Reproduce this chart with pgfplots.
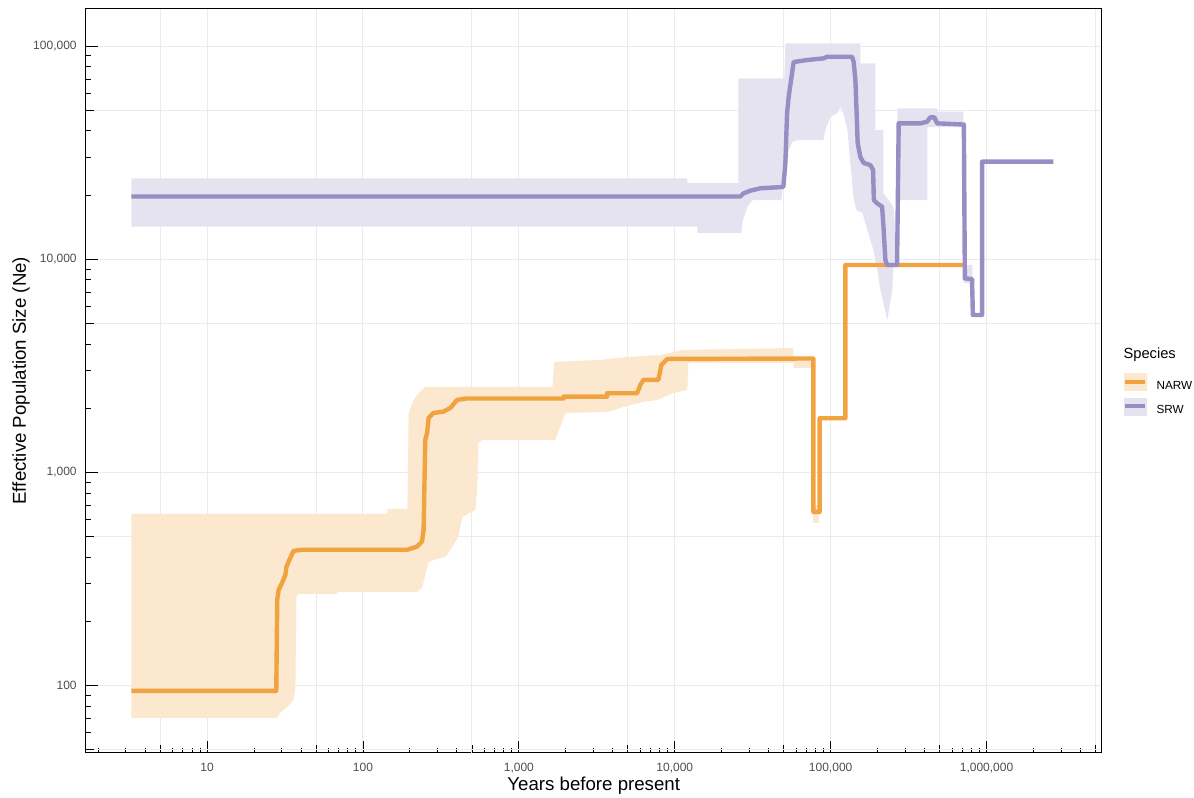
\documentclass[border=0pt]{standalone}
\usepackage{pgfplots}
\pgfplotsset{compat=1.18}
\usepackage{fontspec}
\setmainfont{Liberation Sans}
\definecolor{narw}{HTML}{F1A340}
\definecolor{srw}{HTML}{998EC3}
\colorlet{narwband}{narw!25!white}
\colorlet{srwband}{srw!25!white}
\definecolor{gridc}{RGB}{235,235,235}
\definecolor{ticklab}{RGB}{77,77,77}
\begin{document}
\begin{tikzpicture}
\path[use as bounding box] (-64.3pt,-33.75pt) rectangle (831.2pt,564.75pt);
\begin{axis}[
  at={(0pt,0pt)}, anchor=south west,
  scale only axis, width=762pt, height=558.5pt,
  xmode=log, ymode=log,
  xmin=1.667, xmax=5.48e6, ymin=48.2, ymax=150300,
  axis x line*=bottom, axis y line*=left,
  xtick={10,100,1000,10000,100000,1000000},
  xticklabels={10,100,{1,000},{10,000},{100,000},{1,000,000}},
  ytick={100,1000,10000,100000},
  yticklabels={100,{1,000},{10,000},{100,000}},
  minor xtick={2,3,4,6,7,8,9,20,30,40,60,70,80,90,200,300,400,600,700,800,900,2000,3000,4000,6000,7000,8000,9000,20000,30000,40000,60000,70000,80000,90000,200000,300000,400000,600000,700000,800000,900000,2000000,3000000,4000000},
  minor ytick={60,70,80,90,200,300,400,600,700,800,900,2000,3000,4000,6000,7000,8000,9000,20000,30000,40000,60000,70000,80000,90000},
  extra x ticks={5,50,500,5000,50000,500000,5000000},
  extra x tick labels={},
  extra y ticks={50,500,5000,50000},
  extra y tick labels={},
  extra tick style={grid=major, major tick length=6pt},
  grid=major,
  major grid style={gridc, line width=0.75pt},
  tick align=inside,
  major tick length=9pt, minor tick length=3.75pt,
  tick style={black, line width=0.6pt},
  axis line style={black, line width=0.75pt},
  ticklabel style={font=\fontsize{9}{10}\selectfont, text=ticklab},
  xticklabel style={yshift=-4.1pt},
  yticklabel style={xshift=-3.3pt},
  xlabel={Years before present},
  ylabel={Effective Population Size (Ne)},
  xlabel style={at={(axis description cs:0.5,-0.0497)}, anchor=base, font=\fontsize{14}{16}\selectfont},
  ylabel style={at={(axis description cs:-0.0637,0.5)}, anchor=center, font=\fontsize{14}{16}\selectfont},
  legend style={at={(axis description cs:1.0213,0.510)}, anchor=north west, draw=none, fill=none,
    inner sep=0pt, outer sep=0pt, row sep=4.75pt, column sep=7pt,
    nodes={inner sep=0pt, font=\fontsize{8.8}{10}\selectfont}},
  legend cell align=left,
  after end axis/.code={\draw[black, line width=0.75pt] (rel axis cs:0,1) -- (rel axis cs:1,1) -- (rel axis cs:1,0);},
]
% NARW band
\addplot[fill=narwband, draw=none, forget plot] coordinates {
(3.27,638) (143.4,638) (143.4,673) (192.7,673) (196.5,1899) (211.4,2186) (227.7,2357) (251.3,2515)
(1640,2515) (1689,3294) (3333,3367) (4966,3478) (8082,3554) (11360,3751) (57650,3833) (57650,3478) (75200,3478)
(75200,3088) (57650,3088) (57650,3259) (12220,3259) (12040,2435) (9795,2357) (7734,2186) (6290,2139)
(5190,2071) (3697,1920) (1988,1899) (1714,1419) (583.3,1419) (549.8,1374) (541.8,854) (526,666)
(434.1,618) (409.3,498) (363.6,432.5) (337.8,401) (282.9,388) (262.7,376) (240.4,290) (223.4,275)
(68.5,275) (68.5,269) (38.5,269) (37.4,260) (36.9,98.5) (35.8,85.6) (32.7,79.4) (29.5,74.4) (28.2,70.5) (3.27,70.5)
};
\addplot[fill=narwband, draw=none, forget plot] coordinates {
(77000,703) (84100,703) (84100,579) (77000,579)
};
% SRW band
\addplot[fill=srwband, draw=none, forget plot] coordinates {
(3.27,23960) (12040,23960) (12040,22770) (25590,22770) (25590,70560) (50470,70560) (51230,102960)
(155100,102960) (155100,82950) (193500,82950) (193500,40360) (217800,40360) (217800,20440)
(252500,17570) (267800,11050) (267800,51040) (483500,51040) (483500,49180) (709900,49180)
(709900,9393) (810600,9393)
(810600,7733) (709900,7733) (709900,41700) (417200,41700) (417200,18950) (271800,18950) (267800,10240)
(252500,9193) (248800,7170) (231000,5186) (208400,7170) (199300,8897) (187900,11050) (159700,16470)
(146200,17010) (139900,19570) (128000,40360) (120600,48500) (115400,51750) (110400,48500) (99560,46450)
(92480,40360) (89790,36230) (61150,36230) (56810,35450) (50470,29200) (48290,18750) (47580,18950)
(31470,18950) (29230,17570) (27140,14940) (26750,13270) (13960,13270) (13960,14210) (3.27,14210)
};
% NARW line
\addplot[narw, line width=3.3pt, line join=round, forget plot] coordinates {
(3.27,94.3) (27.8,94.3) (28.2,252) (28.8,281) (30.3,303) (31.8,330) (32.3,360) (34.2,397) (35.9,428)
(40.7,433) (192,433) (222,448) (239,473) (245,537) (251,1419) (258,1530) (264,1800) (283,1899)
(328,1926) (364,2005) (401,2186) (465,2221) (1938,2221) (1938,2265) (3680,2265) (3680,2350)
(5730,2350) (6016,2570) (6290,2713) (7850,2713) (8204,3190) (8966,3403) (77450,3420) (77450,652)
(85000,652) (85000,1794) (124300,1794) (124300,9393) (713000,9393)
};
% SRW line
\addplot[srw, line width=3.3pt, line join=round, forget plot] coordinates {
(3.27,19680) (26350,19680) (27540,20330) (30530,20960) (35400,21510) (49730,21820) (51230,28270)
(52530,48500) (53770,57670) (56540,74700) (57890,84140) (70590,85980) (90200,87580) (94830,89100)
(137200,89100) (140500,84140) (144100,69250) (147300,44970) (149000,35080) (155100,30160)
(162800,28270) (179700,27660) (187100,26200) (189300,18950) (198400,18290) (213700,17630)
(218800,13710) (224400,9913) (230100,9393) (266700,9393) (273100,43390) (376200,43390)
(415300,44150) (436100,46300) (462700,46300) (481500,43390) (715100,42830) (725700,8120)
(807000,8074) (816700,5474) (935600,5474) (935600,28670) (2682000,28670)
};
\addlegendimage{legend image code/.code={\fill[narwband] (0pt,-3.2pt) rectangle (16.5pt,9.55pt); \draw[narw, line width=3pt] (0.8pt,3.15pt) -- (15.7pt,3.15pt);}}
\addlegendentry{NARW}
\addlegendimage{legend image code/.code={\fill[srwband] (0pt,-3.2pt) rectangle (16.5pt,9.55pt); \draw[srw, line width=3pt] (0.8pt,3.15pt) -- (15.7pt,3.15pt);}}
\addlegendentry{SRW}
\end{axis}
\node[anchor=west, inner sep=0pt, font=\fontsize{11}{13}\selectfont] at (778.2pt,298.5pt) {Species};
\end{tikzpicture}
\end{document}
